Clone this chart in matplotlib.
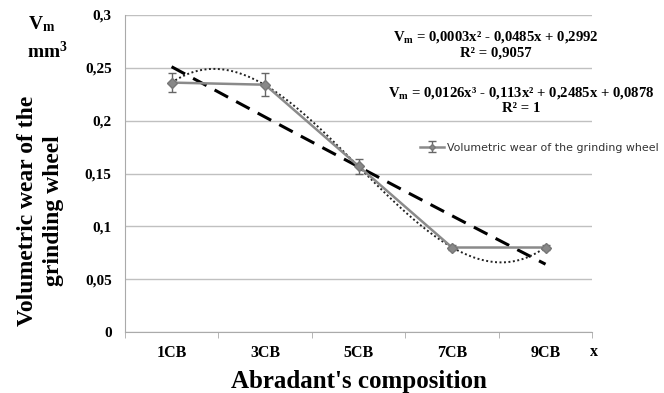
import numpy as np
import matplotlib
matplotlib.use("Agg")
import matplotlib.pyplot as plt

plt.rcParams['font.family'] = ['Liberation Serif', 'DejaVu Serif']
plt.rcParams['mathtext.fontset'] = 'custom'
plt.rcParams['mathtext.it'] = 'Liberation Serif:bold'
plt.rcParams['mathtext.rm'] = 'Liberation Serif:bold'
plt.rcParams['mathtext.bf'] = 'Liberation Serif:bold'

# data
categories = ['1CB', '3CB', '5CB', '7CB', '9CB']
wear = [0.236, 0.234, 0.157, 0.080, 0.080]
wear_err = [0.009, 0.011, 0.007, 0.002, 0.002]
poly2 = [0.0003, -0.0485, 0.2992]           # dashed trendline
poly3 = [0.0126, -0.113, 0.2485, 0.0878]    # dotted trendline
yticks = [0, 0.05, 0.1, 0.15, 0.2, 0.25, 0.3]
ytick_labels = ['0', '0,05', '0,1', '0,15', '0,2', '0,25', '0,3']

fig = plt.figure(figsize=(6.64, 3.93), dpi=100)
ax = fig.add_axes([0.188, 0.155, 0.704, 0.807])

xpos = np.arange(len(categories))
# trendlines use x = 1..5
xs = np.linspace(1, 5, 200)
ax.plot(xs - 1, np.polyval(poly2, xs), color='black', lw=2.2, ls=(0, (5, 3)), zorder=3)
ax.plot(xs - 1, np.polyval(poly3, xs), color='#222222', lw=1.4, ls=(0, (1, 1.3)), zorder=3)

ax.errorbar(xpos, wear, yerr=wear_err, color='#8a8a8a', lw=1.8, marker='D', ms=5,
            mfc='#888888', mec='#777777', ecolor='#666666', elinewidth=1, capsize=3,
            zorder=4, label='Volumetric wear of the grinding wheel')

ax.set_xlim(-0.5, 4.5)
ax.set_ylim(0, 0.3)
ax.set_yticks(yticks)
ax.set_yticklabels(ytick_labels, fontsize=11, fontweight='bold')
ax.set_xticks(xpos)
ax.set_xticklabels(categories, fontsize=11.5, fontweight='bold')
ax.tick_params(axis='x', length=0, pad=9.5)
ax.tick_params(axis='y', length=0, pad=9.5)
ax.set_xticks(np.arange(-0.5, 5, 1), minor=True)
ax.tick_params(axis='x', which='minor', length=4, color='#aaaaaa', direction='out')
ax.grid(axis='y', color='#c0c0c0', lw=1)
ax.set_axisbelow(True)
for s in ['top', 'right']:
    ax.spines[s].set_visible(False)
for s in ['left', 'bottom']:
    ax.spines[s].set_color('#aaaaaa')

ax.set_xlabel("Abradant's composition", fontsize=18, fontweight='bold', labelpad=6)
fig.text(0.061, 0.463, 'Volumetric wear of the\ngrinding wheel', rotation=90,
         fontsize=17, fontweight='bold', ha='center', va='center', linespacing=1.3)
fig.text(0.063, 0.938, '$V_m$', fontsize=14, ha='center', va='center')
fig.text(0.072, 0.868, 'mm$^3$', fontsize=14, fontweight='bold', ha='center', va='center')
fig.text(0.894, 0.105, 'x', fontsize=11.5, fontweight='bold', ha='center', va='center')

fig.text(0.746, 0.906, '$V_m$ = 0,0003x² - 0,0485x + 0,2992', fontsize=10.6,
         fontweight='bold', ha='center', va='center')
fig.text(0.746, 0.865, 'R² = 0,9057', fontsize=10.6, fontweight='bold', ha='center', va='center')
fig.text(0.785, 0.763, '$V_m$ = 0,0126x³ - 0,113x² + 0,2485x + 0,0878', fontsize=10.6,
         fontweight='bold', ha='center', va='center')
fig.text(0.785, 0.725, 'R² = 1', fontsize=10.6, fontweight='bold', ha='center', va='center')

leg = ax.legend(loc='center left', bbox_to_anchor=(0.611, 0.581), frameon=False,
                prop={'family': 'DejaVu Sans', 'size': 7.9}, handlelength=2.2,
                handletextpad=0.2, markerscale=0.6)
for t in leg.get_texts():
    t.set_color('#333333')

fig.savefig('out.png', dpi=100)
